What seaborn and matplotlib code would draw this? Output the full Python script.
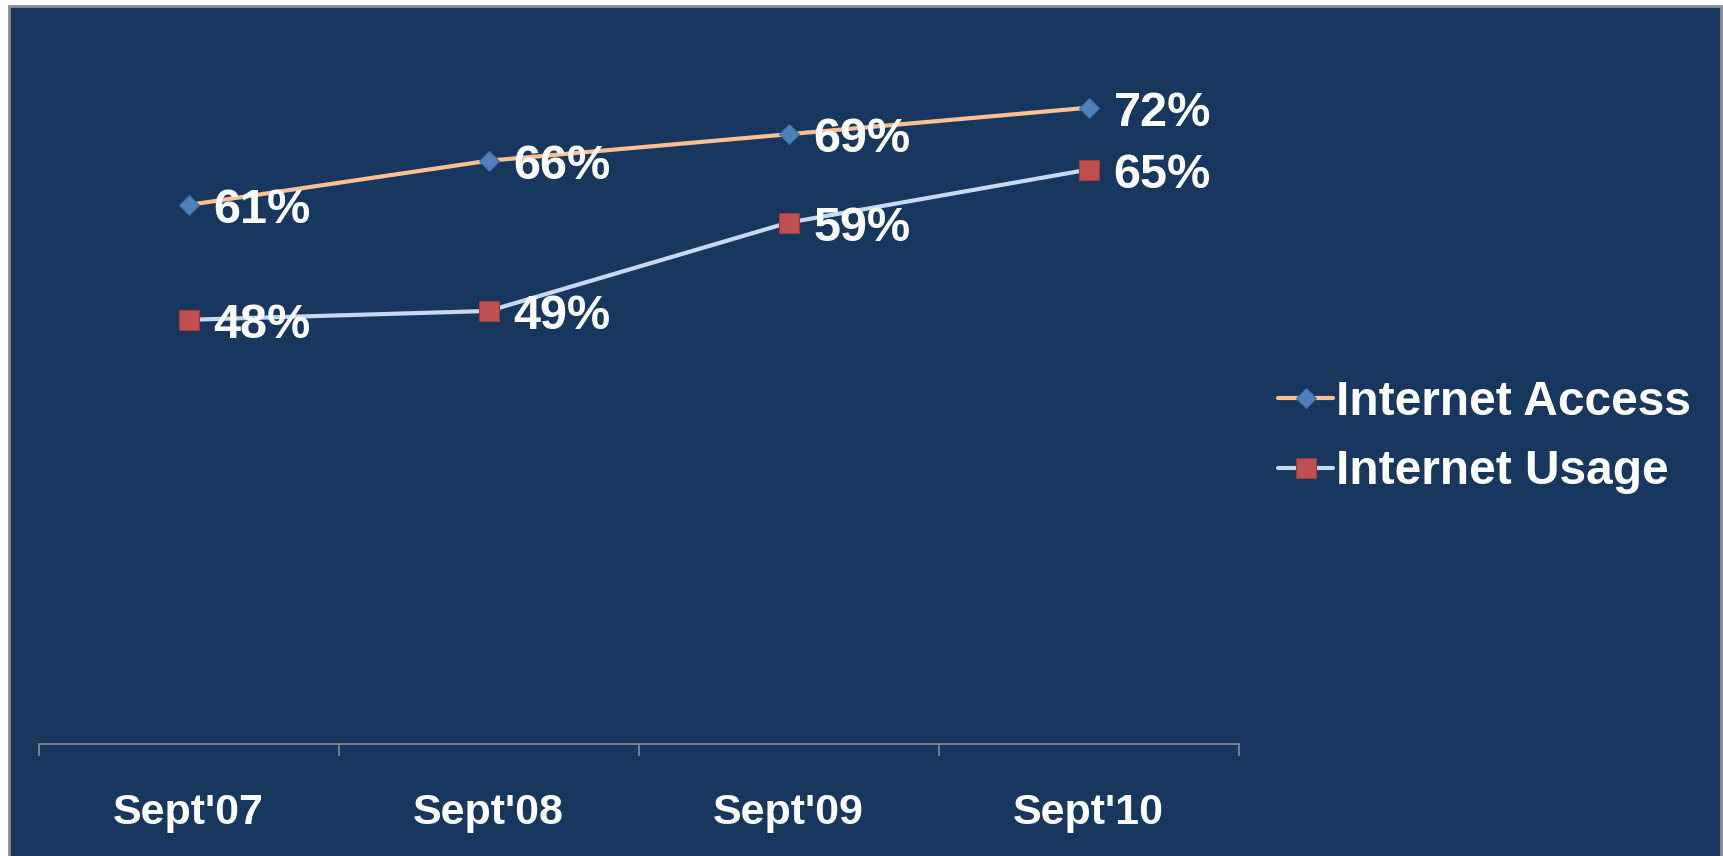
import numpy as np
import pandas as pd
import matplotlib
matplotlib.use("Agg")
import matplotlib.pyplot as plt
from matplotlib.patches import Rectangle
import seaborn as sns

# ─── Data ─────────────────────────────────────────────────────────────────────
periods = ["Sept'07", "Sept'08", "Sept'09", "Sept'10"]
access = [61, 66, 69, 72]
usage = [48, 49, 59, 65]
series_names = ["Internet Access", "Internet Usage"]

BG = "#17375E"
FRAME = "#8C8C8C"

sns.set_style("white")
plt.rcParams["font.family"] = ["Liberation Sans", "DejaVu Sans"]
plt.rcParams["font.weight"] = "bold"

W, H = 1723, 856
fig = plt.figure(figsize=(W / 100, H / 100), dpi=100)
fig.patch.set_facecolor("white")

# slide-like framed background
fig.add_artist(Rectangle((8.5 / W, -0.02), (1720.5 - 8.5) / W, (H - 5.5) / H + 0.02,
                         transform=fig.transFigure, facecolor=BG, edgecolor=FRAME,
                         lw=2, zorder=-1))

ax = fig.add_axes([38.5 / W, 1 - 744 / H, (1238.5 - 38.5) / W, 707 / H])
ax.patch.set_visible(False)

xpos = np.arange(len(periods))
styles = [
    dict(values=access, line="#FAC08F", marker="D", ms=10.6, face="#4F81BD", edge="#3E6BA3"),
    dict(values=usage, line="#C6D9F1", marker="s", ms=14.5, face="#C0504D", edge="#9E3B38"),
]

for name, st in zip(series_names, styles):
    sns.lineplot(x=xpos, y=st["values"], ax=ax, color=st["line"], linewidth=3.0,
                 marker=st["marker"], markersize=st["ms"], markerfacecolor=st["face"],
                 markeredgecolor=st["edge"], markeredgewidth=0.8,
                 errorbar=None, label=name)
    for x, v in zip(xpos, st["values"]):
        ax.annotate(f"{v}%", (x, v), xytext=(18, -4), textcoords="offset points",
                    ha="left", va="center", color="white", fontsize=35, fontweight="bold")

ax.set_xlim(-0.5, len(periods) - 0.5)
ax.set_ylim(0, 80)

ax.set_xticks(xpos)
ax.set_xticklabels(periods, color="white", fontsize=31, fontweight="bold")
ax.set_xticks(np.arange(len(periods) + 1) - 0.5, minor=True)
ax.tick_params(axis="x", which="major", bottom=True, length=0, pad=35)
ax.tick_params(axis="x", which="minor", bottom=True, length=8.6, width=1.2,
               color=FRAME, direction="out")
ax.set_yticks([])

for side in ["top", "right", "left"]:
    ax.spines[side].set_visible(False)
ax.spines["bottom"].set_color(FRAME)
ax.spines["bottom"].set_linewidth(1.2)

leg = ax.legend(loc="center left", bbox_to_anchor=(1278 / W, 1 - 437 / H),
                bbox_transform=fig.transFigure, frameon=False, fontsize=34.5,
                handlelength=1.15, handletextpad=0.05, borderpad=0, borderaxespad=0,
                labelspacing=0.52)
for t in leg.get_texts():
    t.set_color("white")
    t.set_fontweight("bold")

fig.savefig("out.png", dpi=100, facecolor=fig.get_facecolor())
